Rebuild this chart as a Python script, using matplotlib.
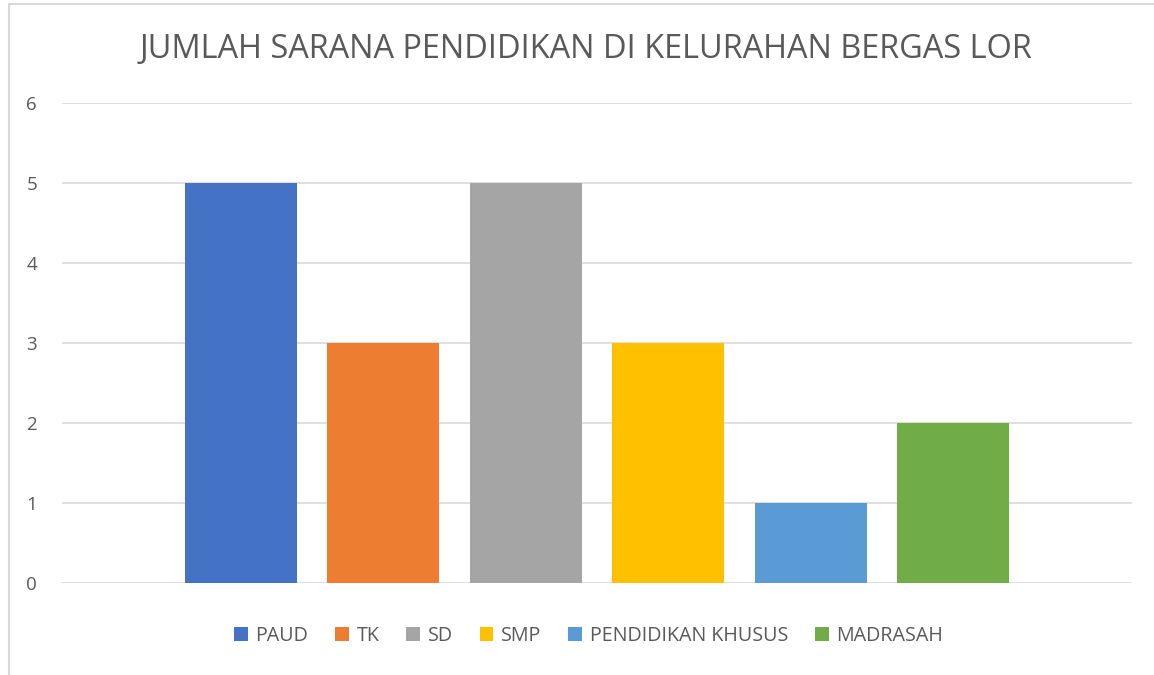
import matplotlib.pyplot as plt
from matplotlib.patches import Rectangle, Patch

categories = ["PAUD", "TK", "SD", "SMP", "PENDIDIKAN KHUSUS", "MADRASAH"]
values = [5, 3, 5, 3, 1, 2]
colors = ["#4472C4", "#ED7D31", "#A5A5A5", "#FFC000", "#5B9BD5", "#70AD47"]
yticks = [0, 1, 2, 3, 4, 5, 6]

plt.rcParams['font.family'] = ['Open Sans', 'DejaVu Sans']
text_color = "#595959"

fig = plt.figure(figsize=(11.54, 6.75), dpi=100)
fig.patches.append(Rectangle((9 / 1154, -0.1), 1.2, 1 - 4 / 675 + 0.1,
                             transform=fig.transFigure, fill=False,
                             edgecolor="#D9D9D9", linewidth=1.5))

ax = fig.add_axes([62 / 1154, (675 - 583) / 675, (1132 - 62) / 1154, 480 / 675])
x = list(range(len(categories)))
ax.bar(x, values, width=0.786, color=colors, zorder=3)

ax.set_xlim(-1.256, 6.256)
ax.set_ylim(0, 6)
ax.set_yticks(yticks)
ax.set_yticklabels([str(v) for v in yticks], fontsize=13.5, color=text_color)
ax.tick_params(axis='y', length=0, pad=18)
ax.set_xticks([])
ax.grid(axis='y', color="#D9D9D9", linewidth=1.2, zorder=0)
for s in ax.spines.values():
    s.set_visible(False)

fig.text(0.508, 1 - 50 / 675, "JUMLAH SARANA PENDIDIKAN DI KELURAHAN BERGAS LOR",
         ha='center', va='center', fontsize=23.4, color=text_color)

handles = [Patch(facecolor=c, label=l) for c, l in zip(colors, categories)]
fig.legend(handles=handles, loc='center', bbox_to_anchor=(0.51, 1 - 636 / 675),
           ncol=6, frameon=False, fontsize=14.2, labelcolor=text_color,
           handlelength=0.7, handleheight=0.7, handletextpad=0.4, columnspacing=1.35)

plt.savefig("out.png", dpi=100)
